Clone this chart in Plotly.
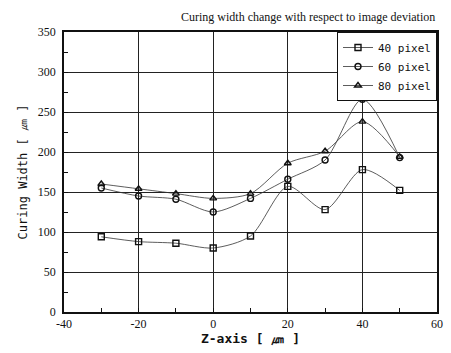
import plotly.graph_objects as go

z_axis = [-30, -20, -10, 0, 10, 20, 30, 40, 50]
width_40px = [94, 88, 86, 80, 95, 157, 128, 178, 152]
width_60px = [155, 145, 141, 125, 142, 166, 190, 266, 193]
width_80px = [160, 154, 148, 142, 148, 186, 201, 238, 194]
series_names = ["40 pixel", "60 pixel", "80 pixel"]
symbols = ["square-open", "circle-open", "triangle-up-open"]
x_ticks = [-40, -20, 0, 20, 40, 60]
x_tick_labels = ["-40", "-20", "0", "20", "40", "60"]
y_ticks = [0, 50, 100, 150, 200, 250, 300, 350]

fig = go.Figure()
for name, vals, sym in zip(series_names, [width_40px, width_60px, width_80px], symbols):
    fig.add_trace(go.Scatter(
        x=z_axis, y=vals, name=name, mode="lines+markers",
        line=dict(color="#333", width=0.8, shape="spline", smoothing=0.8),
        marker=dict(symbol=sym, size=6, color="#111", line=dict(width=1.4, color="#111")),
    ))

fig.add_annotation(
    text="Curing width change with respect to image deviation",
    xref="paper", yref="paper", x=1.0, y=1.0, xanchor="right", yanchor="bottom",
    yshift=6, showarrow=False,
    font=dict(family="Liberation Serif", size=12, color="#111"),
)

fig.update_layout(
    width=451, height=353,
    margin=dict(l=64, r=8, t=32, b=41),
    paper_bgcolor="white", plot_bgcolor="white",
    font=dict(family="Liberation Serif", color="#111", size=12),
    showlegend=True,
    legend=dict(x=1.0, y=1.0, xanchor="right", yanchor="top",
                bordercolor="#111", borderwidth=1, bgcolor="white",
                font=dict(family="DejaVu Sans Mono", size=11, color="#111"),
                tracegroupgap=0, itemwidth=30),
)
fig.update_xaxes(
    range=[-40, 60], tickvals=x_ticks, ticktext=x_tick_labels,
    showgrid=True, gridcolor="#222", gridwidth=0.8,
    showline=True, linecolor="#111", linewidth=1.5, mirror=True,
    ticks="inside", ticklen=4, tickcolor="#111", ticklabeloverflow="allow",
    minor=dict(tickvals=[-30, -10, 10, 30, 50], ticks="inside", ticklen=4, tickcolor="#111"),
    zeroline=False, tickfont=dict(size=12, color="#111"),
    title=dict(text="<b>Z-axis [ ㎛ ]</b>", font=dict(family="DejaVu Sans Mono", size=13, color="#111"), standoff=4),
)
fig.update_yaxes(
    range=[0, 350], tickvals=y_ticks,
    showgrid=True, gridcolor="#222", gridwidth=0.8,
    showline=True, linecolor="#111", linewidth=1.5, mirror=True,
    ticks="inside", ticklen=4, tickcolor="#111",
    minor=dict(tickvals=[25, 75, 125, 175, 225, 275, 325], ticks="inside", ticklen=4, tickcolor="#111"),
    zeroline=False, tickfont=dict(size=12, color="#111"), ticklabelstandoff=4,
    title=dict(text="Curing Width [ ㎛ ]", font=dict(family="DejaVu Sans Mono", size=12, color="#111"), standoff=8),
)
fig.write_html("out.html", config={"displayModeBar": False},
               post_script="document.body.style.margin='0';document.body.style.overflow='hidden';")
